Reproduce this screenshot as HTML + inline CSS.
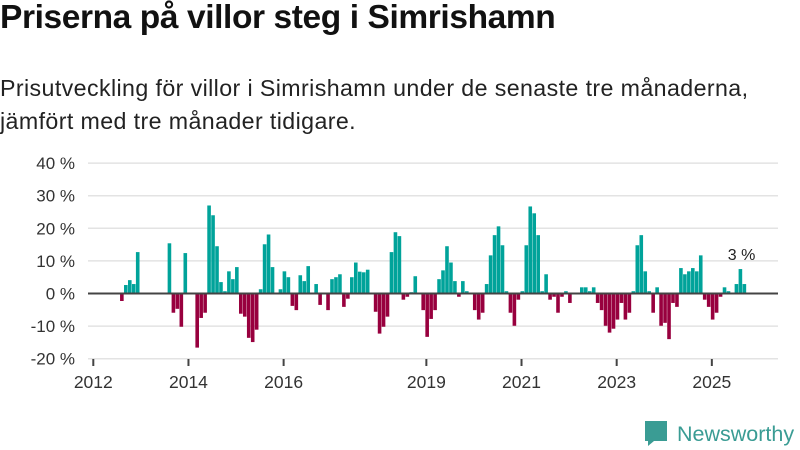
<!DOCTYPE html>
<html><head><meta charset="utf-8">
<style>
body{margin:0;background:#fff;font-family:"Liberation Sans",sans-serif;}
#wrap{position:relative;width:800px;height:450px;overflow:hidden;}
h1{position:absolute;left:0;top:-1px;margin:0;font-size:33.5px;font-weight:bold;color:#111;letter-spacing:-0.4px;}
p{position:absolute;left:0;top:72px;margin:0;font-size:23.2px;line-height:33px;color:#222;letter-spacing:0.4px;}
svg{position:absolute;left:0;top:0;}
</style></head><body>
<div id="wrap">
<h1>Priserna på villor steg i Simrishamn</h1>
<p>Prisutveckling för villor i Simrishamn under de senaste tre månaderna,<br>jämfört med tre månader tidigare.</p>
<svg id="chart" width="800" height="450"></svg>
</div>
<script>
const startYear = 2012;
const values = [null,null,null,null,null,null,null,-2.3,2.6,4.1,2.9,12.7,
null,null,null,null,null,null,null,15.4,-5.9,-4.7,-10.2,12.4,
null,null,-16.6,-7.5,-5.9,27,24,14.5,3.5,0.7,6.8,4.4,
8.1,-6.2,-7.1,-13.6,-14.9,-11.1,1.3,15.1,18.1,8.1,null,1.3,
6.8,5,-3.8,-5.1,5.6,3.8,8.4,null,2.9,-3.5,null,-5.1,
4.4,5,5.9,-4.1,-1.6,5,9.5,6.7,6.5,7.3,null,-5.6,
-12.3,-10.2,-7.1,12.7,18.8,17.6,-1.9,-1,0.4,5.3,null,-5.1,
-13.3,-7.8,-5.1,4.4,7.1,14.5,9.5,3.8,-1,3.8,0.7,null,
-5.1,-8,-5.9,2.9,11.7,17.9,20.6,14.8,0.7,-5.9,-9.9,-1.9,
0.7,14.8,26.7,24.6,17.9,0.7,5.9,-1.9,-1,-5.9,-1,0.7,
-2.9,null,null,1.9,1.9,0.7,1.9,-2.9,-5.1,-9.9,-12,-10.8,
-8,-2.9,-8,-5.9,0.7,14.8,17.9,6.8,0.7,-5.9,1.9,-9.9,
-9,-14,-2.9,-4.1,7.8,5.9,6.8,7.8,6.8,11.7,-1.9,-4.1,
-8,-5.9,-1,1.9,0.7,null,2.9,7.5,2.9];
const yTicks = [-20,-10,0,10,20,30,40];
const xTickYears = [2012,2014,2016,2019,2021,2023,2025];
const lastLabel = "3 %";

const svg = document.getElementById('chart');
const NS = 'http://www.w3.org/2000/svg';
const y = v => 293.5 - v * 3.26;
const x = i => 92.3 + 3.965 * i;
function mk(tag, attrs){const e=document.createElementNS(NS,tag);for(const k in attrs)e.setAttribute(k,attrs[k]);svg.appendChild(e);return e;}
yTicks.forEach(t=>{
  if(t!==0){const g=mk('line',{x1:88,x2:778,y1:y(t),y2:y(t),stroke:'#e3e3e3','stroke-width':1.5});
  
  }
  const l=mk('text',{x:75,y:y(t)+6,'text-anchor':'end','font-size':17,fill:'#333','font-family':'Liberation Sans, sans-serif'});
  l.textContent=t+' %';
  
  
});
values.forEach((v,i)=>{
  if(v===null)return;
  const r=mk('rect',{x:x(i),y:Math.min(y(v),y(0)),width:3.6,height:Math.abs(y(v)-y(0)),fill:v>=0?'#00a39a':'#98003e'});
  
  
});
const z=mk('line',{x1:88,x2:778,y1:y(0),y2:y(0),stroke:'#444','stroke-width':2});


xTickYears.forEach(yr=>{
  const xi=x((yr-startYear)*12)+1;
  const tk=mk('line',{x1:xi,x2:xi,y1:359,y2:366,stroke:'#444','stroke-width':2});
  
  
  const l=mk('text',{x:xi,y:388,'text-anchor':'middle','font-size':17.5,fill:'#333','font-family':'Liberation Sans, sans-serif'});
  l.textContent=yr;
  
  
});
const li=values.length-1;
const lab=mk('text',{x:x(li)-1,y:y(values[li])-24,'text-anchor':'middle','font-size':16,fill:'#222','font-family':'Liberation Sans, sans-serif'});
lab.textContent=lastLabel;


// logo
const lg=mk('g',{});


const b=document.createElementNS(NS,'path');
b.setAttribute('d','M645 421 h22 v20 h-13 l-6 5 v-5 h-3 z');b.setAttribute('fill','#3a9c94');lg.appendChild(b);
const t=document.createElementNS(NS,'text');
t.setAttribute('x',677);t.setAttribute('y',441);t.setAttribute('font-size',21.5);t.setAttribute('fill','#3a9c94');t.setAttribute('font-family','Liberation Sans, sans-serif');
t.textContent='Newsworthy';lg.appendChild(t);
</script>
</body></html>
